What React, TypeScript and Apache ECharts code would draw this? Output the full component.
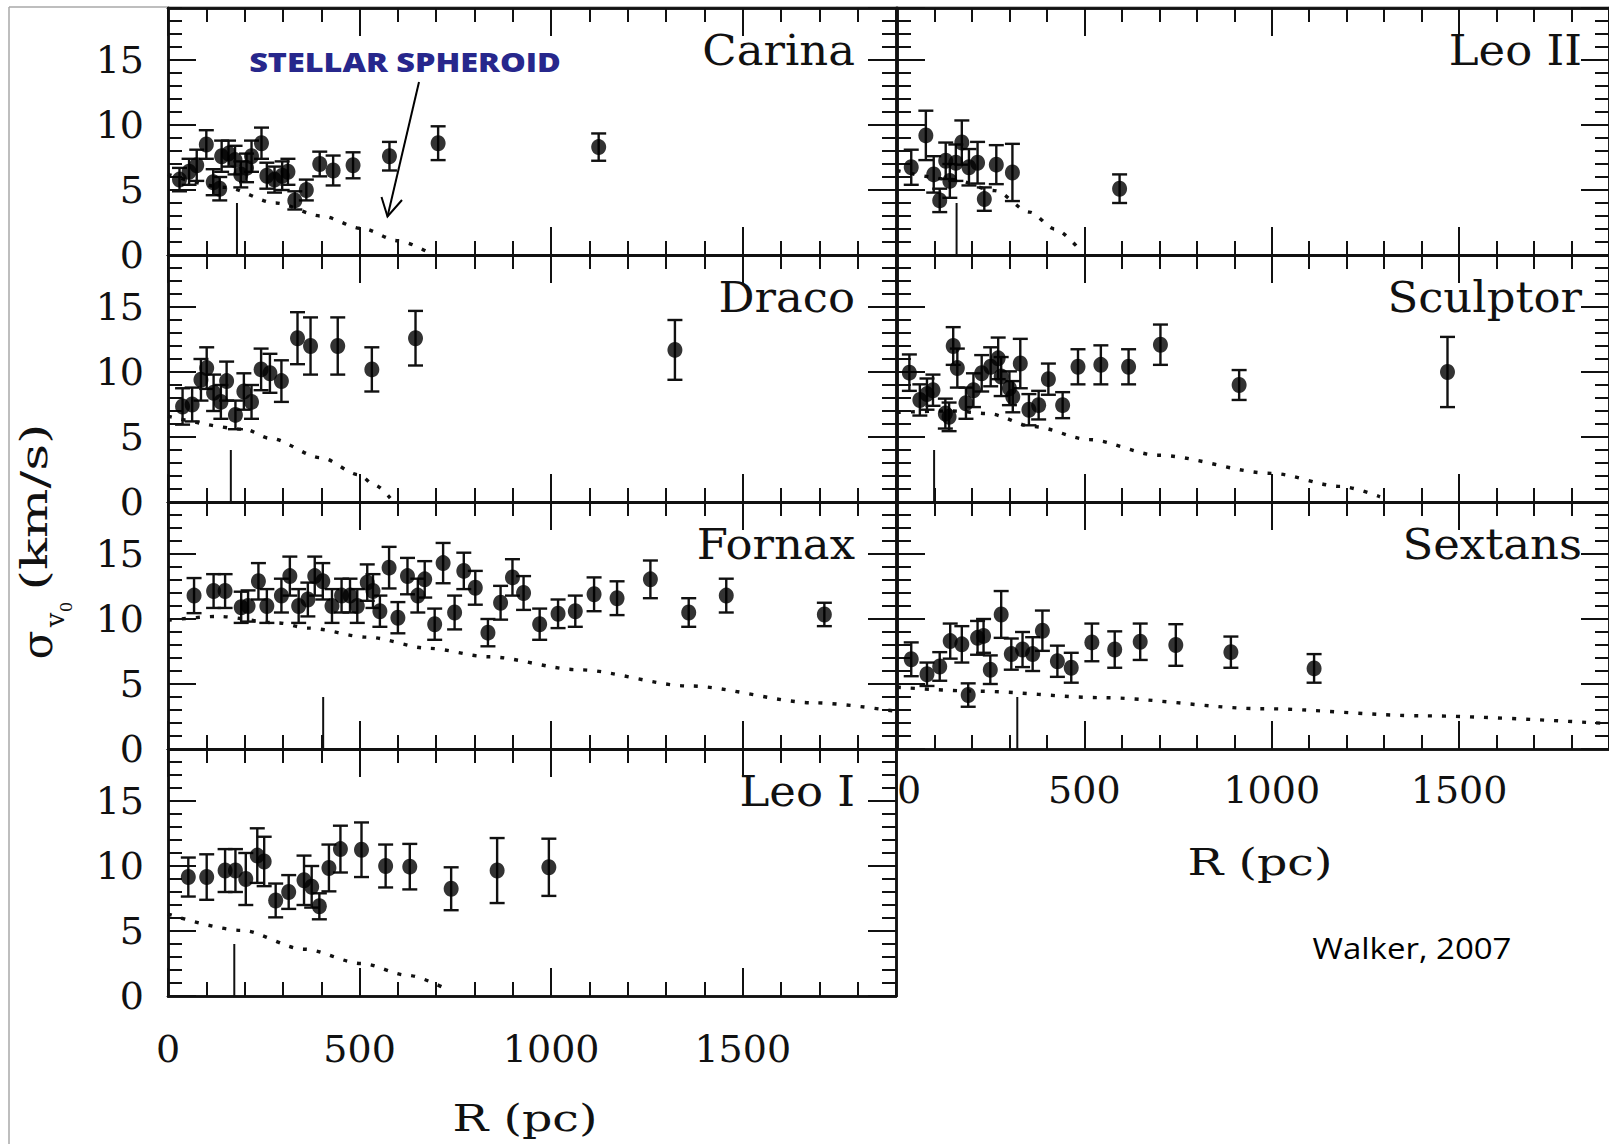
import React, { useEffect, useRef } from "react";
import * as echarts from "echarts";

// ---------- data: [R (pc), sigma (km/s), error] ----------
const carinaObs = [
  [30, 5.8, 0.9], [55, 6.4, 1.0], [75, 6.9, 1.2], [100, 8.5, 1.1], [118, 5.6, 1.0],
  [135, 5.1, 0.9], [140, 7.6, 1.2], [158, 7.8, 1.0], [175, 7.3, 1.1], [190, 6.2, 1.0],
  [205, 6.7, 1.1], [218, 7.6, 1.2], [244, 8.6, 1.2], [258, 6.1, 1.0], [278, 5.8, 1.0],
  [298, 6.1, 1.1], [313, 6.4, 1.0], [331, 4.2, 0.7], [361, 5.0, 0.8], [396, 7.0, 0.95],
  [431, 6.5, 1.15], [483, 6.9, 1.0], [578, 7.6, 1.1], [705, 8.6, 1.3], [1124, 8.3, 1.05],
];
const leoIIObs = [
  [38, 6.75, 1.35], [77, 9.2, 1.9], [98, 6.2, 1.4], [114, 4.2, 0.9], [130, 7.25, 1.4],
  [141, 5.7, 1.3], [157, 7.1, 1.4], [173, 8.65, 1.7], [192, 6.75, 1.4], [215, 7.1, 1.6],
  [233, 4.3, 0.9], [265, 6.95, 1.5], [308, 6.35, 2.2], [594, 5.1, 1.1],
];
const dracoObs = [
  [38, 7.35, 1.4], [63, 7.5, 1.3], [86, 9.4, 1.6], [101, 10.3, 1.6], [119, 8.4, 1.4],
  [138, 7.7, 1.3], [153, 9.3, 1.5], [176, 6.7, 1.1], [198, 8.5, 1.4], [218, 7.7, 1.3],
  [243, 10.2, 1.6], [266, 9.9, 1.5], [296, 9.3, 1.6], [338, 12.6, 2.0], [372, 12.0, 2.2],
  [443, 12.0, 2.2], [532, 10.2, 1.7], [646, 12.6, 2.1], [1323, 11.7, 2.3],
];
const sculptorObs = [
  [33, 9.95, 1.4], [61, 7.85, 1.2], [80, 8.3, 1.2], [96, 8.6, 1.2], [129, 6.8, 1.15],
  [139, 6.55, 1.1], [150, 12.0, 1.45], [161, 10.3, 1.5], [184, 7.6, 1.2], [204, 8.6, 1.3],
  [226, 9.9, 1.4], [250, 10.4, 1.5], [270, 11.05, 1.6], [278, 9.65, 1.5], [300, 8.75, 1.3],
  [309, 8.1, 1.2], [329, 10.65, 1.9], [352, 7.1, 1.2], [378, 7.45, 1.1], [404, 9.45, 1.2],
  [442, 7.45, 1.0], [483, 10.4, 1.35], [544, 10.55, 1.5], [618, 10.4, 1.35], [703, 12.1, 1.55],
  [913, 9.0, 1.15], [1469, 10.0, 2.7],
];
const fornaxObs = [
  [68, 11.8, 1.35], [119, 12.15, 1.3], [149, 12.15, 1.3], [191, 10.9, 1.2], [209, 11.0, 1.2],
  [236, 12.9, 1.4], [258, 11.0, 1.3], [296, 11.8, 1.3], [318, 13.3, 1.5], [341, 11.0, 1.3],
  [365, 11.5, 1.3], [383, 13.3, 1.5], [404, 12.9, 1.4], [428, 11.0, 1.3], [453, 11.8, 1.3],
  [475, 11.8, 1.3], [494, 11.0, 1.3], [520, 12.8, 1.4], [535, 12.15, 1.3], [553, 10.6, 1.2],
  [577, 13.95, 1.6], [600, 10.1, 1.2], [625, 13.3, 1.4], [652, 11.8, 1.3], [670, 13.05, 1.4],
  [696, 9.6, 1.2], [718, 14.3, 1.55], [748, 10.5, 1.3], [772, 13.7, 1.4], [802, 12.4, 1.3],
  [835, 8.95, 1.05], [868, 11.25, 1.3], [899, 13.2, 1.4], [928, 12.0, 1.3], [970, 9.6, 1.2],
  [1018, 10.4, 1.1], [1063, 10.6, 1.2], [1112, 11.9, 1.3], [1172, 11.6, 1.3], [1259, 13.05, 1.45],
  [1359, 10.5, 1.1], [1457, 11.8, 1.3], [1713, 10.35, 0.9],
];
const sextansObs = [
  [38, 6.9, 1.3], [80, 5.75, 0.9], [114, 6.35, 1.1], [142, 8.3, 1.35], [173, 8.05, 1.4],
  [190, 4.15, 0.9], [215, 8.55, 1.3], [231, 8.7, 1.3], [249, 6.1, 1.1], [278, 10.35, 1.8],
  [305, 7.3, 1.2], [335, 7.65, 1.35], [362, 7.3, 1.3], [388, 9.1, 1.55], [428, 6.75, 1.2],
  [465, 6.25, 1.15], [520, 8.2, 1.45], [581, 7.65, 1.4], [649, 8.25, 1.4], [744, 8.0, 1.6],
  [891, 7.45, 1.2], [1113, 6.2, 1.1],
];
const leoIObs = [
  [53, 9.15, 1.5], [101, 9.15, 1.75], [149, 9.65, 1.65], [176, 9.65, 1.65], [203, 9.0, 2.0],
  [233, 10.8, 2.1], [251, 10.35, 1.9], [281, 7.35, 1.3], [315, 8.0, 1.3], [355, 8.9, 1.9],
  [375, 8.4, 1.6], [395, 6.9, 1.0], [420, 9.85, 1.8], [450, 11.3, 1.8], [505, 11.25, 2.1],
  [568, 10.0, 1.65], [631, 9.95, 1.75], [739, 8.25, 1.65], [859, 9.65, 2.5], [994, 9.9, 2.2],
];

// stellar spheroid profiles (dotted lines)
const carinaProfR = [0, 150, 281, 400, 505, 600, 680];
const carinaProfS = [6.2, 5.2, 4.0, 3.0, 2.05, 1.1, 0.2];
const leoIIProfR = [0, 150, 261, 354, 421, 489];
const leoIIProfS = [6.5, 5.8, 4.95, 3.3, 2.0, 0.35];
const dracoProfR = [0, 200, 266, 400, 498, 540, 580];
const dracoProfS = [6.6, 5.6, 4.9, 3.4, 2.1, 1.3, 0.3];
const sculptorProfR = [0, 150, 243, 365, 513, 696, 1000, 1184, 1289];
const sculptorProfS = [6.9, 7.0, 6.8, 5.8, 4.8, 3.6, 2.2, 1.2, 0.4];
const fornaxProfR = [0, 130, 287, 365, 522, 678, 835, 1070, 1359, 1689, 1900];
const fornaxProfS = [9.9, 10.2, 9.7, 9.3, 8.6, 7.75, 7.1, 6.1, 4.85, 3.55, 2.9];
const sextansProfR = [0, 212, 544, 975, 1405, 1900];
const sextansProfS = [4.75, 4.45, 3.95, 3.1, 2.55, 1.95];
const leoIProfR = [0, 191, 355, 505, 625, 715];
const leoIProfS = [6.3, 5.05, 3.6, 2.5, 1.6, 0.7];

// vertical marker radii (pc) and their height (km/s)
const coreR = { Carina: 180, "Leo II": 159, Draco: 164, Sculptor: 99, Fornax: 405, Sextans: 321, "Leo I": 173 };
const coreTop = 4;

const X_MAX = 1900;
const Y_MAX = 19;
const X_MAJOR = 500;
const X_MINOR = 100;
const Y_MAJOR = 5;
const Y_MINOR = 1;

const panels = [
  { name: "Carina", col: 0, row: 0, obs: carinaObs, pr: carinaProfR, ps: carinaProfS },
  { name: "Leo II", col: 1, row: 0, obs: leoIIObs, pr: leoIIProfR, ps: leoIIProfS },
  { name: "Draco", col: 0, row: 1, obs: dracoObs, pr: dracoProfR, ps: dracoProfS },
  { name: "Sculptor", col: 1, row: 1, obs: sculptorObs, pr: sculptorProfR, ps: sculptorProfS },
  { name: "Fornax", col: 0, row: 2, obs: fornaxObs, pr: fornaxProfR, ps: fornaxProfS },
  { name: "Sextans", col: 1, row: 2, obs: sextansObs, pr: sextansProfR, ps: sextansProfS },
  { name: "Leo I", col: 0, row: 3, obs: leoIObs, pr: leoIProfR, ps: leoIProfS },
];

const COLS = [
  { left: 168, width: 728 },
  { left: 897, width: 726 },
];
const ROW_TOP = [8, 255, 502, 749];
const ROW_H = 247;
const SERIF = "DejaVu Serif";
const INK = "#111";

function renderErrorBar(params: any, api: any) {
  const x = api.value(0);
  const top = api.coord([x, api.value(2)]);
  const bot = api.coord([x, api.value(1)]);
  const hw = 7.5;
  const style = { stroke: INK, lineWidth: 2.4 };
  return {
    type: "group",
    children: [
      { type: "line", shape: { x1: top[0], y1: top[1], x2: bot[0], y2: bot[1] }, style },
      { type: "line", shape: { x1: top[0] - hw, y1: top[1], x2: top[0] + hw, y2: top[1] }, style },
      { type: "line", shape: { x1: bot[0] - hw, y1: bot[1], x2: bot[0] + hw, y2: bot[1] }, style },
    ],
  };
}

const plainNumber = (v: number) => String(v);

function buildOption() {
  const grid: any[] = [];
  const xAxis: any[] = [];
  const yAxis: any[] = [];
  const series: any[] = [];
  const graphic: any[] = [];

  const axisLine = { show: true, onZero: false, lineStyle: { color: INK, width: 2.5 } };
  const labelStyle = { fontFamily: SERIF, fontSize: 38, color: INK, formatter: plainNumber };
  const tick = (len: number) => ({ show: true, inside: true, length: len, lineStyle: { color: INK, width: 2 } });

  panels.forEach((p, i) => {
    const c = COLS[p.col];
    const top = ROW_TOP[p.row];
    grid.push({ left: c.left, top, width: c.width, height: ROW_H, containLabel: false });
    const showX = (p.col === 0 && p.row === 3) || (p.col === 1 && p.row === 2);
    const showY = p.col === 0;
    const xBase = { type: "value", gridIndex: i, min: 0, max: X_MAX, splitLine: { show: false }, axisLine };
    xAxis.push({
      ...xBase, position: "bottom", interval: X_MAJOR, axisTick: tick(28),
      axisLabel: {
        show: showX, ...labelStyle, margin: p.col === 0 ? 34 : 22, showMaxLabel: false,
        alignMinLabel: p.col === 1 ? "left" : "center",
      },
    });
    xAxis.push({ ...xBase, position: "bottom", interval: X_MINOR, axisTick: tick(14), axisLabel: { show: false } });
    xAxis.push({ ...xBase, position: "top", interval: X_MAJOR, axisTick: tick(28), axisLabel: { show: false } });
    xAxis.push({ ...xBase, position: "top", interval: X_MINOR, axisTick: tick(14), axisLabel: { show: false } });

    const yBase = { type: "value", gridIndex: i, min: 0, max: Y_MAX, splitLine: { show: false }, axisLine };
    yAxis.push({
      ...yBase, position: "left", interval: Y_MAJOR, axisTick: tick(28),
      axisLabel: { show: showY, ...labelStyle, margin: 24, showMaxLabel: false },
    });
    yAxis.push({ ...yBase, position: "left", interval: Y_MINOR, axisTick: tick(14), axisLabel: { show: false } });
    yAxis.push({ ...yBase, position: "right", interval: Y_MAJOR, axisTick: tick(28), axisLabel: { show: false } });
    yAxis.push({ ...yBase, position: "right", interval: Y_MINOR, axisTick: tick(14), axisLabel: { show: false } });

    const xi = i * 4;
    const yi = i * 4;
    series.push({
      type: "line", xAxisIndex: xi, yAxisIndex: yi, silent: true,
      data: p.pr.map((r, k) => [r, p.ps[k]]),
      symbol: "none", smooth: 0.3, smoothMonotone: "x",
      lineStyle: { color: INK, width: 3.4, type: [4, 10] }, z: 1,
    });
    series.push({
      type: "line", xAxisIndex: xi, yAxisIndex: yi, silent: true,
      data: [[(coreR as any)[p.name], 0], [(coreR as any)[p.name], coreTop]],
      symbol: "none", lineStyle: { color: INK, width: 2 }, z: 1,
    });
    series.push({
      type: "custom", xAxisIndex: xi, yAxisIndex: yi, silent: true,
      renderItem: renderErrorBar,
      encode: { x: 0, y: [1, 2] },
      data: p.obs.map(([r, s, e]) => [r, s - e, s + e]),
      z: 2,
    });
    series.push({
      type: "scatter", xAxisIndex: xi, yAxisIndex: yi, silent: true,
      data: p.obs.map(([r, s]) => [r, s]),
      symbol: "circle", symbolSize: [15, 16],
      itemStyle: { color: "#000" }, z: 3,
    });

    graphic.push({
      type: "text", x: c.left + c.width - 41, y: top + 43, scaleX: 1.07,
      style: { text: p.name, fontFamily: SERIF, fontSize: 42, fill: INK, align: "right", verticalAlign: "middle" },
      z: 10,
    });
  });

  // page border
  graphic.push({ type: "line", shape: { x1: 9, y1: 7, x2: 9, y2: 1144 }, style: { stroke: "#a8a8a8", lineWidth: 1.5 } });
  graphic.push({ type: "line", shape: { x1: 9, y1: 7, x2: 1609, y2: 7 }, style: { stroke: "#a8a8a8", lineWidth: 1.5 } });

  // y-axis title
  graphic.push({
    type: "text", x: 34, y: 507, rotation: Math.PI / 2, scaleX: 1.38,
    style: { text: "(km/s)", fontFamily: SERIF, fontSize: 38, fill: INK, align: "center", verticalAlign: "middle" },
  });
  graphic.push({
    type: "text", x: 37, y: 645, rotation: Math.PI / 2,
    style: { text: "σ", fontFamily: SERIF, fontSize: 42, fill: INK, align: "center", verticalAlign: "middle" },
  });
  graphic.push({
    type: "text", x: 55, y: 620, rotation: Math.PI / 2,
    style: { text: "v", fontFamily: SERIF, fontSize: 26, fill: INK, align: "center", verticalAlign: "middle" },
  });
  graphic.push({
    type: "text", x: 66, y: 607, rotation: Math.PI / 2,
    style: { text: "0", fontFamily: SERIF, fontSize: 16, fill: INK, align: "center", verticalAlign: "middle" },
  });

  // x-axis titles
  graphic.push({
    type: "text", x: 525, y: 1118, scaleX: 1.25,
    style: { text: "R (pc)", fontFamily: SERIF, fontSize: 38, fill: INK, align: "center", verticalAlign: "middle" },
  });
  graphic.push({
    type: "text", x: 1260, y: 862, scaleX: 1.25,
    style: { text: "R (pc)", fontFamily: SERIF, fontSize: 38, fill: INK, align: "center", verticalAlign: "middle" },
  });

  // annotation
  graphic.push({
    type: "text", x: 405, y: 62, scaleX: 1.2,
    style: { text: "STELLAR SPHEROID", fontFamily: "Open Sans", fontWeight: 800, fontSize: 27, fill: "#27278c", align: "center", verticalAlign: "middle" },
    z: 10,
  });
  graphic.push({ type: "line", shape: { x1: 419, y1: 82, x2: 387.5, y2: 216.5 }, style: { stroke: "#000", lineWidth: 2 }, z: 10 });
  graphic.push({
    type: "polyline", shape: { points: [[381.5, 197], [387.5, 216.5], [402, 200]] },
    style: { stroke: "#000", lineWidth: 2, fill: null }, z: 10,
  });

  // citation
  graphic.push({
    type: "text", x: 1412, y: 947, scaleX: 1.1,
    style: { text: "Walker, 2007", fontFamily: "Open Sans", fontSize: 30, fill: "#000", align: "center", verticalAlign: "middle" },
  });

  return {
    animation: false,
    backgroundColor: "#fff",
    grid, xAxis, yAxis, series, graphic,
  };
}

export default function App() {
  const ref = useRef<HTMLDivElement>(null);
  useEffect(() => {
    if (!ref.current) return;
    const chart = echarts.init(ref.current, null, { renderer: "svg" });
    chart.setOption(buildOption() as any);
    return () => chart.dispose();
  }, []);
  return (
    <div
      ref={ref}
      style={{ position: "fixed", left: 0, top: 0, width: 1609, height: 1144, background: "#fff" }}
    />
  );
}
